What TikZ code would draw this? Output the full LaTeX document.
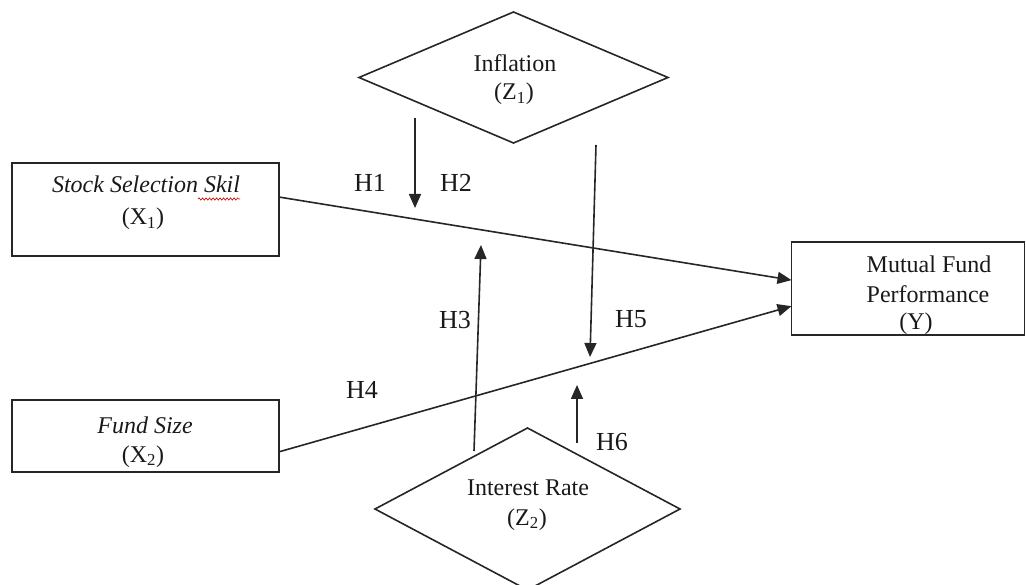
\documentclass[tikz,border=0pt]{standalone}
\usepackage{fontspec}
\setmainfont{Liberation Serif}
\usetikzlibrary{shapes.geometric,arrows.meta,calc,decorations.pathmorphing}
\begin{document}
\begin{tikzpicture}[x=1pt,y=-1pt,
  every node/.style={inner sep=0pt,outer sep=0pt},
  line/.style={draw=black!85,line width=1.6pt},
  boxnode/.style={line,rectangle},
  dnode/.style={line,diamond},
  txt/.style={font=\fontsize{24}{30}\selectfont,anchor=base,text=black!90},
  hlab/.style={font=\fontsize{26}{30}\selectfont,text=black!90},
  arr/.style={line,-{Triangle[length=14pt,width=12pt]}}
]
\useasboundingbox (0,0) rectangle (1026,585);
% boxes
\node[boxnode,minimum width=267pt,minimum height=93pt] (X1) at (145.5,209.5) {};
\node[boxnode,minimum width=267pt,minimum height=72pt] (X2) at (145.5,436) {};
\node[boxnode,minimum width=233pt,minimum height=93pt] (Y) at (908,288.5) {};
% diamonds
\node[dnode,minimum width=309pt,minimum height=131pt] (Z1) at (513.5,77.5) {};
\node[dnode,minimum width=305pt,minimum height=162pt] (Z2) at (527.5,509) {};
% texts
\node[txt] (t1a) at (146,193) {\itshape Stock Selection Skil};
\node[txt] (t1b) at (143,225) {(X\textsubscript{1})};
\node[txt] (t2a) at (145,433) {\itshape Fund Size};
\node[txt] (t2b) at (143,462) {(X\textsubscript{2})};
\node[txt] (tza) at (515,72) {Inflation};
\node[txt] (tzb) at (514,100) {(Z\textsubscript{1})};
\node[txt] (tya) at (929,273) {Mutual Fund};
\node[txt] (tyb) at (928,303) {Performance};
\node[txt] (tyc) at (916,330) {(Y)};
\node[txt] (twa) at (528,495) {Interest Rate};
\node[txt] (twb) at (527,525) {(Z\textsubscript{2})};
% spell-check underline
\coordinate (w1) at (198,199);
\coordinate (w2) at (240,199);
\draw[red!80!black,line width=0.6pt,decorate,decoration={snake,amplitude=1.2pt,segment length=3.5pt}] (w1) -- (w2);
% main paths
\draw[arr] ($(X1.north east)!0.366!(X1.south east)$) -- ($(Y.north west)!0.41!(Y.south west)$);
\draw[arr] ($(X2.north east)!0.72!(X2.south east)$) -- ($(Y.north west)!0.69!(Y.south west)$);
% moderating arrows
\coordinate (a1s) at (415,118);
\coordinate (a1e) at (415,208);
\coordinate (a5s) at (596,145);
\coordinate (a5e) at (590,357);
\coordinate (a3s) at (474,451);
\coordinate (a3e) at (481,245);
\coordinate (a6s) at (577,443);
\coordinate (a6e) at (577,385);
\draw[arr] (a1s) -- (a1e);
\draw[arr] (a5s) -- (a5e);
\draw[arr] (a3s) -- (a3e);
\draw[arr] (a6s) -- (a6e);
% labels
\node[hlab] (H1) at (370,183) {H1};
\node[hlab] (H2) at (456,183) {H2};
\node[hlab] (H3) at (455,320) {H3};
\node[hlab] (H4) at (362,390) {H4};
\node[hlab] (H5) at (631,319) {H5};
\node[hlab] (H6) at (612,442) {H6};
\end{tikzpicture}
\end{document}
